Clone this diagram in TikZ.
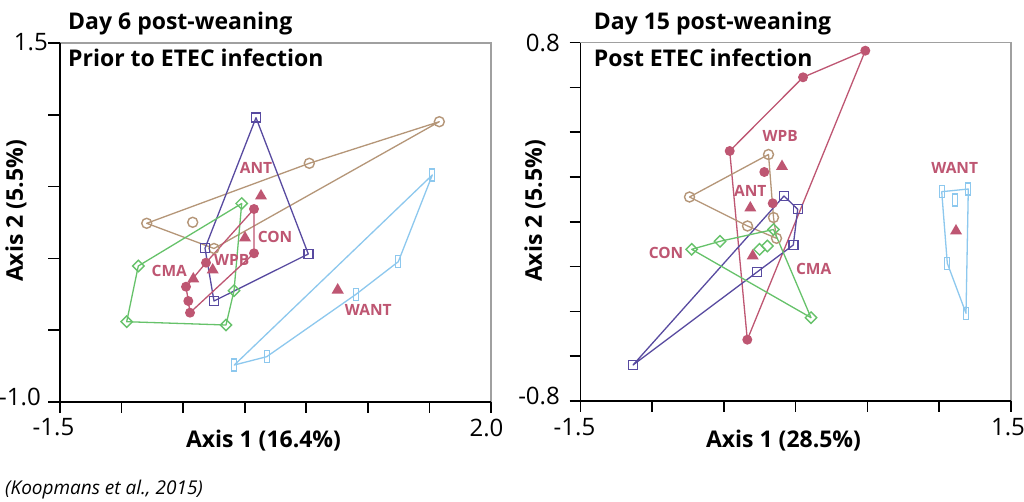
\documentclass[tikz,border=0pt]{standalone}
\usepackage{fontspec}
\setmainfont{Open Sans}
\usetikzlibrary{shapes.geometric}
\definecolor{tanc}{RGB}{181,150,120}
\definecolor{purc}{RGB}{88,74,160}
\definecolor{grnc}{RGB}{102,194,106}
\definecolor{bluc}{RGB}{141,200,238}
\definecolor{rosec}{RGB}{190,86,114}
\definecolor{boxgray}{RGB}{160,160,160}
\begin{document}
\begin{tikzpicture}[x=1pt,y=-1pt,
  tanm/.style={circle, draw=tanc, line width=1.4pt, minimum size=10pt, inner sep=0pt},
  purm/.style={rectangle, draw=purc, line width=1.4pt, minimum size=9pt, inner sep=0pt},
  grnm/.style={diamond, draw=grnc, line width=1.4pt, minimum size=12pt, inner sep=0pt},
  blum/.style={rectangle, draw=bluc, line width=1.3pt, minimum width=5pt, minimum height=12pt, inner sep=0pt},
  dotm/.style={circle, fill=rosec, minimum size=10pt, inner sep=0pt},
  trim/.style={regular polygon, regular polygon sides=3, fill=rosec, minimum size=14pt, inner sep=0pt},
  grp/.style={text=rosec, font=\fontsize{15.5}{18}\selectfont\bfseries, inner sep=0pt},
  hull/.style={line width=1.3pt, line join=round},
  ticklab/.style={font=\fontsize{24}{28}\selectfont, inner sep=0pt},
  axlab/.style={font=\fontsize{23}{27}\selectfont\bfseries, inner sep=0pt},
  ttl/.style={font=\fontsize{23}{27}\selectfont\bfseries, inner sep=0pt, anchor=base west},
  axisline/.style={line width=1.6pt, black},
  boxline/.style={line width=1.4pt, boxgray},
  tickline/.style={line width=1.6pt, black}
]
\path[use as bounding box, fill=white] (0,0) rectangle (1024,502);

% ---------------- Left panel frame ----------------
\draw[boxline] (60,43) -- (491,43) -- (491,402);
\draw[axisline] (60,43) -- (60,402) -- (491,402);
\foreach \k in {0,...,5} \draw[tickline] (48,43+\k*71.8) -- (60,43+\k*71.8);
\foreach \k in {0,...,7} \draw[tickline] (60+\k*61.57,402) -- (60+\k*61.57,413);
\node[ticklab, anchor=east] (ly1) at (48,42) {1.5};
\node[ticklab, anchor=east] (ly2) at (41,397) {-1.0};
\node[ticklab] (lx1) at (53.5,427.5) {-1.5};
\node[ticklab] (lx2) at (486.5,427.5) {2.0};
\node[axlab] (lax1) at (263.5,441) {Axis 1 (16.4\%)};
\node[axlab, rotate=90] (lax2) at (16,211) {Axis 2 (5.5\%)};
\node[ttl] (lt1) at (68,29.5) {Day 6 post-weaning};
\node[ttl] (lt2) at (68,66.5) {Prior to ETEC infection};

% ---------------- Right panel frame ----------------
\draw[boxline] (580.3,42.7) -- (1011,42.7) -- (1011,401);
\draw[axisline] (580.3,42.7) -- (580.3,401) -- (1011,401);
\foreach \k in {0,...,8} \draw[tickline] (569.5,42.7+\k*44.79) -- (580.3,42.7+\k*44.79);
\foreach \k in {0,...,6} \draw[tickline] (580.3+\k*71.78,401) -- (580.3+\k*71.78,412);
\node[ticklab, anchor=east] (ry1) at (560,42.5) {0.8};
\node[ticklab, anchor=east] (ry2) at (560,395.7) {-0.8};
\node[ticklab] (rx1) at (574.5,427.5) {-1.5};
\node[ticklab] (rx2) at (1008,427.5) {1.5};
\node[axlab] (rax1) at (783.5,441) {Axis 1 (28.5\%)};
\node[axlab, rotate=90] (rax2) at (535,211) {Axis 2 (5.5\%)};
\node[ttl] (rt1) at (593.7,29.5) {Day 15 post-weaning};
\node[ttl] (rt2) at (593.7,66.5) {Post ETEC infection};

\node[font=\fontsize{19}{22}\selectfont\itshape, inner sep=0pt, anchor=base west] (cite) at (5,494) {(Koopmans et al., 2015)};

% ---------------- Left panel data ----------------
\coordinate (LT1) at (146.7,223.3);
\coordinate (LT2) at (309.3,163.3);
\coordinate (LT3) at (439.3,121.7);
\coordinate (LT4) at (214,248.5);
\coordinate (LT5) at (192.7,222.3);
\coordinate (LP1) at (205,248.3);
\coordinate (LP2) at (256,117.7);
\coordinate (LP3) at (308.3,254);
\coordinate (LP4) at (214,301);
\coordinate (LG1) at (241.7,203.5);
\coordinate (LG2) at (138.3,266);
\coordinate (LG3) at (126.7,321.7);
\coordinate (LG4) at (226,325);
\coordinate (LG5) at (234,290.7);
\coordinate (LB1) at (432.3,175);
\coordinate (LB2) at (398.3,261.7);
\coordinate (LB3) at (356,294.3);
\coordinate (LB4) at (266.7,356.7);
\coordinate (LB5) at (234.3,365);
\coordinate (LD1) at (254,209);
\coordinate (LD2) at (254,253.3);
\coordinate (LD3) at (206,262.7);
\coordinate (LD4) at (186,286.7);
\coordinate (LD5) at (188.3,301);
\coordinate (LD6) at (190,312.7);

\draw[hull, tanc] (LT1) -- (LT2) -- (LT3) -- (LT4) -- cycle;
\draw[hull, purc] (LP1) -- (LP2) -- (LP3) -- (LP4) -- cycle;
\draw[hull, grnc] (LG1) -- (LG2) -- (LG3) -- (LG4) -- (LG5) -- cycle;
\draw[hull, bluc] (LB1) -- (LB2) -- (LB3) -- (LB4) -- (LB5) -- cycle;
\draw[hull, rosec] (LD1) -- (LD3) -- (LD4) -- (LD5) -- (LD6) -- (LD2) -- cycle;

\foreach \p in {LT1,LT2,LT3,LT4,LT5} \node[tanm] (m\p) at (\p) {};
\foreach \p in {LP1,LP2,LP3,LP4} \node[purm] (m\p) at (\p) {};
\foreach \p in {LG1,LG2,LG3,LG4,LG5} \node[grnm] (m\p) at (\p) {};
\foreach \p in {LB1,LB2,LB3,LB4,LB5} \node[blum] (m\p) at (\p) {};
\foreach \p in {LD1,LD2,LD3,LD4,LD5,LD6} \node[dotm] (m\p) at (\p) {};
\node[trim] (LA1) at (261,196) {};
\node[trim] (LA2) at (245,238) {};
\node[trim] (LA3) at (212.7,270) {};
\node[trim] (LA4) at (193.3,279) {};
\node[trim] (LA5) at (337.7,290) {};
\node[grp] (lANT) at (256,168) {ANT};
\node[grp] (lCON) at (275,236.7) {CON};
\node[grp] (lCMA) at (169.3,270.7) {CMA};
\node[grp] (lWPB) at (231.7,260) {WPB};
\node[grp] (lWANT) at (368.3,310) {WANT};

% ---------------- Right panel data ----------------
\coordinate (RD1) at (865.3,50.7);
\coordinate (RD2) at (803,77.3);
\coordinate (RD3) at (729.7,151);
\coordinate (RD4) at (764.3,172);
\coordinate (RD5) at (772.7,203.3);
\coordinate (RD6) at (747.3,339.7);
\coordinate (RT1) at (768.5,154.5);
\coordinate (RT2) at (689.5,197);
\coordinate (RT3) at (747.5,226);
\coordinate (RT4) at (776.5,238.3);
\coordinate (RT5) at (773.5,217.5);
\coordinate (RP1) at (633,365);
\coordinate (RP2) at (784,196);
\coordinate (RP3) at (797.7,209.3);
\coordinate (RP4) at (793.3,245);
\coordinate (RP5) at (756.7,272.3);
\coordinate (RG1) at (691.7,249.3);
\coordinate (RG2) at (720,241.3);
\coordinate (RG3) at (773.5,229.5);
\coordinate (RG4) at (759.5,249.3);
\coordinate (RG5) at (767.3,246);
\coordinate (RG6) at (811,317.7);
\coordinate (RB1) at (941.7,191.7);
\coordinate (RB2) at (968.3,189);
\coordinate (RB3) at (955,200);
\coordinate (RB4) at (947.3,263.3);
\coordinate (RB5) at (966,313.3);

\draw[hull, rosec] (RD3) -- (RD2) -- (RD1) -- (RD6) -- cycle;
\draw[hull, tanc] (RT1) -- (RT2) -- (RT3) -- (RT4) -- (RT5) -- cycle;
\draw[hull, purc] (RP1) -- (RP2) -- (RP3) -- (RP4) -- (RP5) -- cycle;
\draw[hull, grnc] (RG1) -- (RG2) -- (RG3) -- (RG6) -- cycle;
\draw[hull, bluc] (RB1) -- (RB2) -- (RB5) -- (RB4) -- cycle;

\foreach \p in {RT1,RT2,RT3,RT4,RT5} \node[tanm] (m\p) at (\p) {};
\foreach \p in {RP1,RP2,RP3,RP4,RP5} \node[purm] (m\p) at (\p) {};
\foreach \p in {RG1,RG2,RG3,RG4,RG5,RG6} \node[grnm] (m\p) at (\p) {};
\foreach \p in {RB1,RB2,RB3,RB4,RB5} \node[blum] (m\p) at (\p) {};
\foreach \p in {RD1,RD2,RD3,RD4,RD5,RD6} \node[dotm] (m\p) at (\p) {};
\node[trim] (RA1) at (782,166.5) {};
\node[trim] (RA2) at (750.3,208) {};
\node[trim] (RA3) at (752.7,256) {};
\node[trim] (RA4) at (956,231) {};
\node[grp] (rWPB) at (780.3,136) {WPB};
\node[grp] (rANT) at (750.3,190.7) {ANT};
\node[grp] (rWANT) at (954.7,168.3) {WANT};
\node[grp] (rCON) at (666,253.3) {CON};
\node[grp] (rCMA) at (813.7,269.3) {CMA};
\end{tikzpicture}
\end{document}
